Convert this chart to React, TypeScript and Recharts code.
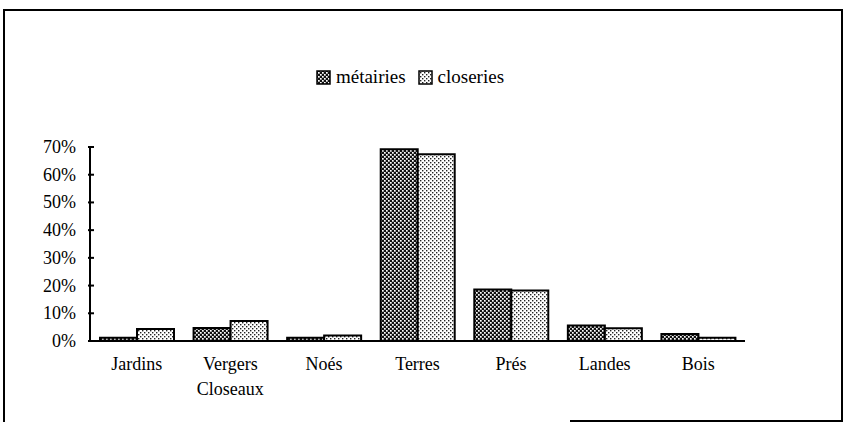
import React from 'react';
import { BarChart, Bar, XAxis, YAxis } from 'recharts';

const categories = ['Jardins', 'Vergers Closeaux', 'Noés', 'Terres', 'Prés', 'Landes', 'Bois'];
const metairies = [1.2, 4.7, 1.2, 69.2, 18.6, 5.6, 2.5];
const closeries = [4.3, 7.2, 2.0, 67.4, 18.2, 4.6, 1.2];
const yTicks = [0, 10, 20, 30, 40, 50, 60, 70];
const seriesNames = ['métairies', 'closeries'];

const data = categories.map((c, i) => ({ name: c, metairies: metairies[i], closeries: closeries[i] }));

const FONT = '"Liberation Serif", "Times New Roman", serif';

const YTick = (props: any) => {
  const { x, y, payload } = props;
  return (
    <g>
      <line x1={x} x2={x + 6} y1={y} y2={y} stroke="#000" strokeWidth={2} />
      <text x={x - 12} y={y} dy={6} textAnchor="end" fontFamily={FONT} fontSize={18} fill="#000">
        {`${payload.value}%`}
      </text>
    </g>
  );
};

const XTick = (props: any) => {
  const { x, y, payload } = props;
  const lines = String(payload.value).split(' ');
  return (
    <g>
      {lines.map((l, i) => (
        <text key={i} x={x} y={y + i * 25} dy={19} textAnchor="middle" fontFamily={FONT} fontSize={18} fill="#000">
          {l}
        </text>
      ))}
    </g>
  );
};

export default function App() {
  return (
    <div style={{ position: 'absolute', left: 0, top: 0, width: 848, height: 422, background: '#fff', fontFamily: FONT }}>
      <svg width={0} height={0} style={{ position: 'absolute' }}>
        <defs>
          <pattern id="patMet" patternUnits="userSpaceOnUse" width={4} height={4}>
            <rect x={0} y={0} width={4} height={4} fill="#111" />
            <rect x={0} y={0} width={1.7} height={1.7} fill="#fff" />
            <rect x={2} y={2} width={1.7} height={1.7} fill="#fff" />
          </pattern>
          <pattern id="patClo" patternUnits="userSpaceOnUse" width={4} height={4}>
            <rect x={0} y={0} width={4} height={4} fill="#fff" />
            <rect x={0} y={0} width={1.4} height={1.4} fill="#222" />
            <rect x={2} y={2} width={1.4} height={1.4} fill="#222" />
          </pattern>
        </defs>
      </svg>
      <div style={{ position: 'absolute', left: 3, top: 9, width: 840, height: 420, borderLeft: '2px solid #000', borderTop: '2px solid #000', borderRight: '2px solid #000', boxSizing: 'border-box' }} />
      <div style={{ position: 'absolute', left: 570, top: 420, width: 273, height: 2, background: '#000' }} />
      <div style={{ position: 'absolute', left: 0, top: 66, width: 820, display: 'flex', justifyContent: 'center', alignItems: 'center', fontSize: 19, color: '#000' }}>
        {seriesNames.map((n, i) => (
          <div key={n} style={{ display: 'flex', alignItems: 'center', marginRight: i === 0 ? 12 : 0 }}>
            <svg width={15} height={15} style={{ marginRight: 5 }}>
              <rect x={1} y={1} width={13} height={13} fill={i === 0 ? 'url(#patMet)' : 'url(#patClo)'} stroke="#000" strokeWidth={1.5} />
            </svg>
            <span>{n}</span>
          </div>
        ))}
      </div>
      <div style={{ position: 'absolute', left: 0, top: 0 }}>
        <BarChart width={848} height={422} data={data} margin={{ top: 147, right: 103, bottom: 41, left: 0 }} barGap={0} barSize={37}>
          <YAxis
            width={90}
            domain={[0, 70]}
            ticks={yTicks}
            interval={0}
            tickSize={0}
            tickLine={false}
            axisLine={{ stroke: '#000', strokeWidth: 2 }}
            tick={<YTick />}
          />
          <XAxis
            dataKey="name"
            height={40}
            interval={0}
            tickSize={0}
            tickMargin={10}
            tickLine={false}
            axisLine={{ stroke: '#000', strokeWidth: 2 }}
            tick={<XTick />}
          />
          <Bar dataKey="metairies" name={seriesNames[0]} fill="url(#patMet)" stroke="#000" strokeWidth={2} isAnimationActive={false} />
          <Bar dataKey="closeries" name={seriesNames[1]} fill="url(#patClo)" stroke="#000" strokeWidth={2} isAnimationActive={false} />
        </BarChart>
      </div>
    </div>
  );
}
